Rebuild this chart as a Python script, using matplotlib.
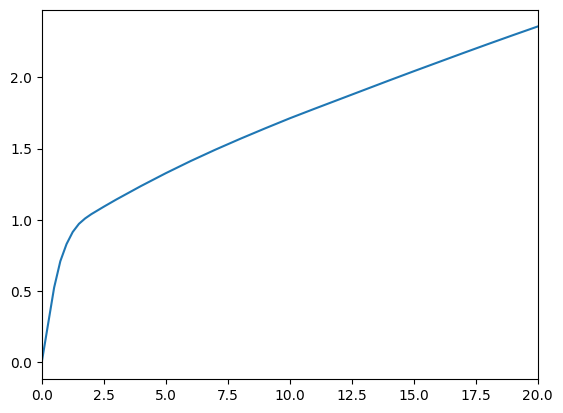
import matplotlib
matplotlib.use("Agg")
import matplotlib.pyplot as plt

x_values = [0, 0.5, 0.75, 1.0, 1.25, 1.5, 1.75, 2.0, 2.5, 3.0, 4.0, 5.0, 6.0, 7.0, 8.0,
            9.0, 10.0, 11.0, 12.0, 13.0, 14.0, 15.0, 16.0, 17.0, 18.0, 19.0, 20.0]
y_values = [0.0, 0.525, 0.71, 0.83, 0.915, 0.972, 1.01, 1.04, 1.092, 1.142, 1.237, 1.327,
            1.412, 1.492, 1.568, 1.641, 1.712, 1.779, 1.845, 1.911, 1.977, 2.042, 2.106,
            2.170, 2.233, 2.295, 2.356]

fig, ax = plt.subplots(figsize=(6.4, 4.8), dpi=100)
ax.plot(x_values, y_values)
ax.set_xlim(0, 20)
fig.savefig("out.png", dpi=100, bbox_inches="tight")
